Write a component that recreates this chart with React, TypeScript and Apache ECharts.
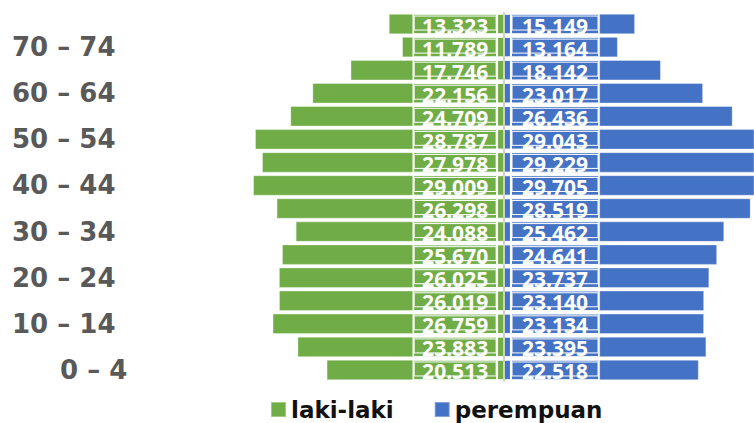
import React, { useEffect, useRef } from "react";
import * as echarts from "echarts";

// bottom → top
const categories = [
  "0 – 4", "5 – 9", "10 – 14", "15 – 19", "20 – 24", "25 – 29", "30 – 34", "35 – 39",
  "40 – 44", "45 – 49", "50 – 54", "55 – 59", "60 – 64", "65 – 69", "70 – 74", "75+",
];
const lakiLaki = [20513, 23883, 26759, 26019, 26025, 25670, 24088, 26298, 29009, 27978, 28787, 24709, 22156, 17746, 11789, 13323];
const perempuan = [22518, 23395, 23134, 23140, 23737, 24641, 25462, 28519, 29705, 29229, 29043, 26436, 23017, 18142, 13164, 15149];
const seriesNames = ["laki-laki", "perempuan"];

const GREEN = "#70AD47";
const BLUE = "#4472C4";

const fmt = (v: number) => (v / 1000).toFixed(3);

export default function App() {
  const ref = useRef<HTMLDivElement>(null);
  useEffect(() => {
    if (!ref.current) return;
    const chart = echarts.init(ref.current, null, { renderer: "svg" });
    const L_IN = 800, L_BOX = 9700, R_IN = 800, R_BOX = 10200;
    const boxLabel = (arr: number[], w: number) => ({
      show: true,
      position: "inside",
      formatter: (p: any) => `{t|${fmt(arr[p.dataIndex])}}`,
      width: w,
      height: 14,
      borderColor: "#ffffff",
      borderWidth: 1,
      offset: [0, -1],
      rich: {
        t: {
          fontFamily: "Open Sans",
          fontWeight: "bold",
          fontSize: 21,
          color: "#ffffff",
          lineHeight: 19,
          height: 19,
          align: "center",
        },
      },
    });
    const common = {
      type: "bar",
      barCategoryGap: "11%",
      barGap: "-100%",
      silent: true,
    };
    chart.setOption({
      animation: false,
      backgroundColor: "#ffffff",
      grid: { left: 244.5, right: 0, top: 12.5, bottom: 41.5 },
      legend: {
        data: seriesNames,
        left: 265,
        top: 393,
        itemWidth: 15,
        itemHeight: 15,
        itemGap: 40,
        icon: "rect",
        textStyle: { fontFamily: "DejaVu Sans", fontWeight: "bold", fontSize: 23, color: "#111111" },
      },
      xAxis: {
        type: "value",
        min: -30000,
        max: 28900,
        show: false,
        splitLine: { show: false },
      },
      yAxis: {
        type: "category",
        data: categories,
        axisLine: { show: false, onZero: false },
        axisTick: { show: false },
        axisLabel: {
          interval: 1,
          align: "left",
          margin: 232.5,
          formatter: (v: string, i: number) => (i === 0 ? `{b|${v}}` : `{a|${v}}`),
          rich: {
            a: { fontFamily: "DejaVu Sans", fontWeight: "bold", fontSize: 26, color: "#595959" },
            b: { fontFamily: "DejaVu Sans", fontWeight: "bold", fontSize: 26, color: "#595959", padding: [0, 0, 0, 48] },
          },
        },
      },
      series: [
        {
          ...common,
          name: "laki-laki-dalam",
          stack: "l",
          data: lakiLaki.map(() => -L_IN),
          itemStyle: { color: GREEN, borderColor: "#ffffff", borderWidth: 1 },
          markLine: {
            silent: true,
            symbol: "none",
            label: { show: false },
            lineStyle: { color: "#d0d0d0", width: 2, type: "solid" },
            data: [{ xAxis: 0 }],
          },
        },
        {
          ...common,
          name: "laki-laki-kotak",
          stack: "l",
          data: lakiLaki.map(() => -L_BOX),
          itemStyle: { color: GREEN, borderColor: "#ffffff", borderWidth: 1 },
          label: boxLabel(lakiLaki, 82),
        },
        {
          ...common,
          name: "laki-laki",
          stack: "l",
          data: lakiLaki.map((v) => -(v - L_IN - L_BOX)),
          itemStyle: { color: GREEN, borderColor: "rgba(255,255,255,0.35)", borderWidth: 1 },
        },
        {
          ...common,
          name: "perempuan-dalam",
          stack: "r",
          data: perempuan.map(() => R_IN),
          itemStyle: { color: BLUE, borderColor: "#ffffff", borderWidth: 1 },
        },
        {
          ...common,
          name: "perempuan-kotak",
          stack: "r",
          data: perempuan.map(() => R_BOX),
          itemStyle: { color: BLUE, borderColor: "#ffffff", borderWidth: 1 },
          label: boxLabel(perempuan, 86),
        },
        {
          ...common,
          name: "perempuan",
          stack: "r",
          data: perempuan.map((v) => v - R_IN - R_BOX),
          itemStyle: { color: BLUE, borderColor: "rgba(255,255,255,0.35)", borderWidth: 1 },
        },
      ],
    });
    return () => chart.dispose();
  }, []);
  return (
    <div
      ref={ref}
      style={{ position: "absolute", left: 0, top: 0, width: 754, height: 423, background: "#fff" }}
    />
  );
}
